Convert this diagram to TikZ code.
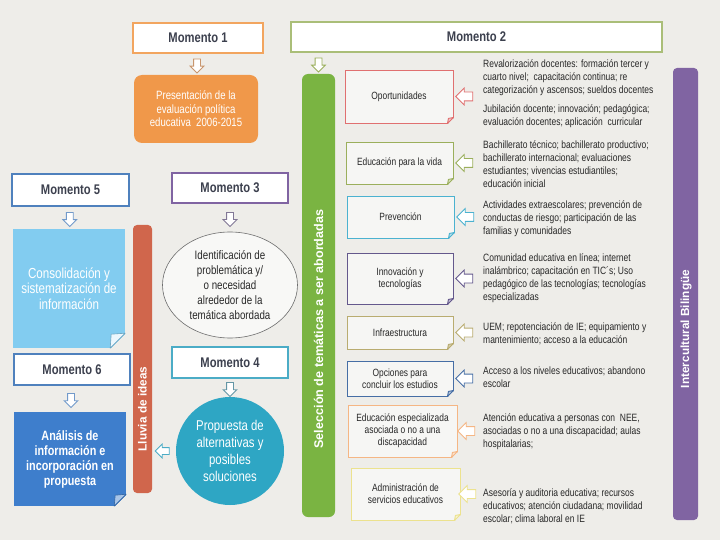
\documentclass[tikz,border=0pt]{standalone}
\usepackage{fontspec}
\setmainfont{Liberation Sans}[FakeStretch=0.8]
\newfontfamily\widefont{Liberation Sans}
\usetikzlibrary{shapes.arrows,shapes.geometric,calc}
\definecolor{bgc}{RGB}{238,237,233}
\definecolor{momtxt}{RGB}{60,64,78}
\definecolor{txtdark}{RGB}{40,40,40}
\definecolor{orng}{RGB}{240,152,74}
\definecolor{orngb}{RGB}{242,165,95}
\definecolor{olive}{RGB}{170,190,120}
\definecolor{grn}{RGB}{122,180,66}
\definecolor{steel}{RGB}{79,129,189}
\definecolor{ltblue}{RGB}{130,204,240}
\definecolor{dkblue}{RGB}{62,126,204}
\definecolor{lluvia}{RGB}{208,102,76}
\definecolor{purp}{RGB}{128,100,162}
\definecolor{teal}{RGB}{75,172,198}
\definecolor{circ}{RGB}{46,166,196}
\definecolor{kred}{RGB}{224,112,112}
\definecolor{kolive}{RGB}{155,175,92}
\definecolor{kcyan}{RGB}{75,178,208}
\definecolor{kpurp}{RGB}{100,88,140}
\definecolor{kkhaki}{RGB}{185,172,112}
\definecolor{kblue}{RGB}{70,110,165}
\definecolor{korange}{RGB}{245,182,132}
\definecolor{kyellow}{RGB}{236,226,142}
\definecolor{arrbrown}{RGB}{200,150,110}
\definecolor{arrpurp}{RGB}{130,120,150}
\definecolor{arrteal}{RGB}{100,150,165}
\definecolor{ellgray}{RGB}{110,110,110}
\newcommand\foldc[5]{%
  \fill[bgc] ($(#1.south east)+(-#2,1)$) -- ($(#1.south east)+(1,1)$) -- ($(#1.south east)+(1,-#2)$) -- cycle;
  \filldraw[draw=#3, fill=#4, line width=#5, line join=round] ($(#1.south east)+(-#2,0)$) -- ($(#1.south east)+(0,-#2)$) -- ($(#1.south east)+(-#2+1,-#2+1)$) -- cycle;}
\begin{document}
\begin{tikzpicture}[x=1pt,y=-1pt,
  mom/.style={draw=#1, fill=white, line width=1.8pt, font=\bfseries\fontsize{14}{16}\selectfont, text=momtxt, inner sep=0pt},
  cat/.style={draw=#1, fill=bgc!50!white, line width=0.9pt, font=\fontsize{10.5}{12}\selectfont, text=txtdark, align=center, inner sep=0pt},
  desc/.style={anchor=north west, inner sep=0pt, align=left, font=\fontsize{10.6}{13}\selectfont, text=txtdark},
  darr/.style={single arrow, draw=#1, fill=white, line width=0.8pt, shape border rotate=270, single arrow head extend=3.5pt, inner sep=3pt, minimum height=14pt},
  larr/.style={single arrow, draw=#1, fill=white, line width=0.8pt, shape border rotate=180, single arrow head extend=4pt, inner sep=4pt, minimum height=17pt},
  vtext/.style={rotate=90, font=\widefont\bfseries\fontsize{#1}{14}\selectfont, text=white, inner sep=0pt}]
\fill[bgc] (0,0) rectangle (720,540);
\useasboundingbox (0,0) rectangle (720,540);

% Momento 1
\node[mom=orngb, minimum width=130, minimum height=30] (m1) at (198,38) {Momento 1};
\node[rounded corners=8pt, fill=orng, text=white, align=center, font=\fontsize{12}{13.5}\selectfont, minimum width=124, minimum height=68, inner sep=0pt] (pres) at (196,109) {Presentación de la\\evaluación política\\educativa~~2006-2015};
\node[darr=arrbrown] (a1) at ($(m1.south)!0.5!(pres.north)$) {};

% Momento 2
\node[mom=olive, minimum width=371, minimum height=30] (m2) at (476.5,37) {Momento 2};
\node[fill=grn, rounded corners=6pt, minimum width=33, minimum height=443, inner sep=0pt] (sel) at (318.5,295.5) {};
\node[vtext=12.6] (selt) at (318.5,329) {Selección de temáticas a ser abordadas};
\node[darr=kolive] (a2) at ($(sel.north)!0.5!(sel.north |- m2.south)$) {};

% categories
\node[cat=kred, minimum width=108, minimum height=53] (cat1) at (399,96.5) {Oportunidades};
\node[cat=kolive, minimum width=107, minimum height=42] (cat2) at (399.5,163) {Educación para la vida};
\node[cat=kcyan, minimum width=107, minimum height=42] (cat3) at (400.5,217) {Prevención};
\node[cat=kpurp, minimum width=106, minimum height=51] (cat4) at (400,278.5) {Innovación y\\tecnologías};
\node[cat=kkhaki, minimum width=106, minimum height=33] (cat5) at (400,332.5) {Infraestructura};
\node[cat=kblue, minimum width=106, minimum height=35] (cat6) at (400,378.5) {Opciones para\\concluir los estudios};
\node[cat=korange, minimum width=109, minimum height=52] (cat7) at (402.5,431) {Educación especializada\\asociada o no a una\\discapacidad};
\node[cat=kyellow, minimum width=109, minimum height=52] (cat8) at (405.5,494) {Administración de\\servicios educativos};
\foldc{cat1}{6}{kred}{kred!40!white}{0.9pt}
\foldc{cat2}{6}{kolive}{kolive!40!white}{0.9pt}
\foldc{cat3}{6}{kcyan}{kcyan!40!white}{0.9pt}
\foldc{cat4}{6}{kpurp}{kpurp!40!white}{0.9pt}
\foldc{cat5}{6}{kkhaki}{kkhaki!60!white}{0.9pt}
\foldc{cat6}{6}{kblue}{kblue!40!white}{0.9pt}
\foldc{cat7}{6}{korange}{korange!40!white}{0.9pt}
\foldc{cat8}{6}{kyellow}{kyellow!40!white}{0.9pt}

\node[larr=kred] (la1) at ($(cat1.east)+(13,0)$) {};
\node[larr=kolive] (la2) at ($(cat2.east)+(13,0)$) {};
\node[larr=kcyan] (la3) at ($(cat3.east)+(13,0)$) {};
\node[larr=kpurp] (la4) at ($(cat4.east)+(13,0)$) {};
\node[larr=kkhaki] (la5) at ($(cat5.east)+(13,0)$) {};
\node[larr=kblue] (la6) at ($(cat6.east)+(13,0)$) {};
\node[larr=korange] (la7) at ($(cat7.east)+(11,0)$) {};
\node[larr=kyellow] (la8) at ($(cat8.east)+(9,0)$) {};

% descriptions
\node[desc] (d1) at (483,59) {Revalorización docentes: formación tercer y\\cuarto nivel;~ capacitación continua; re\\categorización y ascensos; sueldos docentes};
\node[desc] (d2) at (483,104) {Jubilación docente; innovación; pedagógica;\\evaluación docentes; aplicación~ curricular};
\node[desc] (d3) at (483,140) {Bachillerato técnico; bachillerato productivo;\\bachillerato internacional; evaluaciones\\estudiantes; vivencias estudiantiles;\\educación inicial};
\node[desc] (d4) at (483,200) {Actividades extraescolares; prevención de\\conductas de riesgo; participación de las\\familias y comunidades};
\node[desc] (d5) at (483,253) {Comunidad educativa en línea; internet\\inalámbrico; capacitación en TIC´s; Uso\\pedagógico de las tecnologías; tecnologías\\especializadas};
\node[desc] (d6) at (483,322) {UEM; repotenciación de IE; equipamiento y\\mantenimiento; acceso a la educación};
\node[desc] (d7) at (483,367) {Acceso a los niveles educativos; abandono\\escolar};
\node[desc] (d8) at (483,413) {Atención educativa a personas con~ NEE,\\asociadas o no a una discapacidad; aulas\\hospitalarias;};
\node[desc] (d9) at (483,488) {Asesoría y auditoria educativa; recursos\\educativos; atención ciudadana; movilidad\\escolar; clima laboral en IE};

% Intercultural bar
\node[fill=purp, rounded corners=4pt, minimum width=25, minimum height=452, inner sep=0pt] (ib) at (685.5,294) {};
\node[vtext=11.8] (ibt) at (686,329) {Intercultural Bilingüe};

% Momento 5
\node[mom=steel, minimum width=117, minimum height=32] (m5) at (70.5,190) {Momento 5};
\node[fill=ltblue, minimum width=112, minimum height=119, inner sep=0pt, text=white, align=center, font=\fontsize{14.5}{15.5}\selectfont] (cons) at (69,288.5) {Consolidación y\\sistematización de\\información};
\foldc{cons}{15}{ltblue!80!black}{white!85!ltblue}{0.6pt}
\node[darr=steel!80!white] (a5) at ($(m5.south)!0.5!(cons.north)$) {};

% Momento 6
\node[mom=steel, minimum width=116, minimum height=31] (m6) at (72,369.5) {Momento 6};
\node[fill=dkblue, minimum width=112, minimum height=94, inner sep=0pt, text=white, align=center, font=\bfseries\fontsize{13.5}{15}\selectfont] (anal) at (70,459) {Análisis de\\información e\\incorporación en\\propuesta};
\foldc{anal}{12}{dkblue!80!black}{dkblue!45!white}{0.6pt}
\node[darr=steel!80!white] (a6) at ($(m6.south)!0.5!(anal.north)$) {};

% Lluvia de ideas
\node[fill=lluvia, rounded corners=4pt, minimum width=19, minimum height=268, inner sep=0pt] (llu) at (142.5,359) {};
\node[vtext=11.8] (llut) at (142.5,409) {Lluvia de ideas};

% Momento 3
\node[mom=purp, minimum width=116, minimum height=30] (m3) at (230,188) {Momento 3};
\node[ellipse, draw=ellgray, line width=0.6pt, fill=bgc!40!white, minimum width=135, minimum height=106, inner sep=0pt, align=center, text=txtdark, font=\fontsize{12.2}{15}\selectfont] (prob) at (230,285) {Identificación de\\problemática y/\\o necesidad\\alrededor de la\\temática abordada};
\node[darr=arrpurp] (a3) at ($(m3.south)!0.5!(prob.north)$) {};

% Momento 4
\node[mom=teal, minimum width=116, minimum height=31] (m4) at (230,362.5) {Momento 4};
\node[circle, fill=circ, minimum size=108, inner sep=0pt, align=center, text=white, font=\fontsize{14.2}{17}\selectfont] (prop) at (230,451) {Propuesta de\\alternativas y\\posibles\\soluciones};
\node[darr=arrteal] (a4) at ($(m4.south)!0.5!(prop.north)$) {};
\node[larr=teal, minimum height=14pt, inner sep=3pt, single arrow head extend=3.5pt] (la9) at ($(llu.east |- prop.west)!0.5!(prop.west)$) {};
\end{tikzpicture}
\end{document}
